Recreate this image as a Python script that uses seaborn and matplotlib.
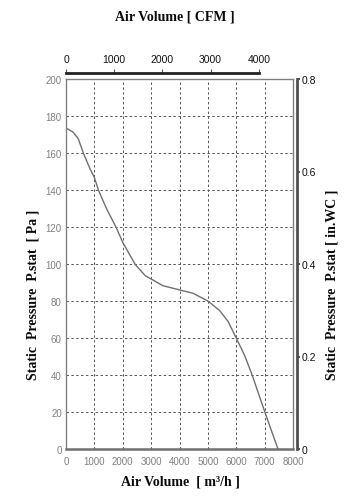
import numpy as np
import pandas as pd
import matplotlib
matplotlib.use("Agg")
import matplotlib.pyplot as plt
import seaborn as sns

# values
air_m3h = [0, 258, 435, 611, 848, 1000, 1141, 1435, 1767, 2000, 2438, 2792,
           3000, 3413, 4000, 4473, 5000, 5417, 5710, 6000, 6300, 6560, 7007, 7470]
pressure_pa = [173.5, 171.2, 167.6, 160.0, 151.4, 146.8, 140.0, 129.7, 119.8,
               111.7, 99.8, 93.7, 91.9, 88.3, 86.0, 84.2, 80.0, 74.8, 69.0,
               60.0, 50.4, 40.0, 20.0, 0.0]

x_ticks = [0, 1000, 2000, 3000, 4000, 5000, 6000, 7000, 8000]
y_ticks = [0, 20, 40, 60, 80, 100, 120, 140, 160, 180, 200]
wc_ticks = [0, 0.2, 0.4, 0.6, 0.8]
wc_labels = ["0", "0.2", "0.4", "0.6", "0.8"]
cfm_ticks = [0, 1000, 2000, 3000, 4000]
M3H_PER_CFM = 1.699

sns.set_style("white")
plt.rcParams["font.family"] = ["Liberation Sans Narrow", "Liberation Sans", "DejaVu Sans"]

df = pd.DataFrame({"q": air_m3h, "p": pressure_pa})

fig = plt.figure(figsize=(3.64, 5.02), dpi=100)
ax = fig.add_axes([66 / 364, 1 - 450 / 502, 227 / 364, 370 / 502])

sns.lineplot(data=df, x="q", y="p", ax=ax, color="#707070", linewidth=1.0)

ax.set_xlim(0, 8000)
ax.set_ylim(0, 200)
ax.set_xticks(x_ticks)
ax.set_yticks(y_ticks)
ax.set_xlabel("")
ax.set_ylabel("")
ax.grid(True, color="#555555", linestyle=(0, (2.5, 2.5)), linewidth=0.7)
ax.tick_params(axis="both", length=0, labelsize=7, labelcolor="#808080")
ax.tick_params(axis="x", pad=5)
ax.tick_params(axis="y", pad=3)
for side in ["left", "top", "right"]:
    ax.spines[side].set_color("#808080")
    ax.spines[side].set_linewidth(1.0)
ax.spines["bottom"].set_color("#707070")
ax.spines["bottom"].set_linewidth(1.8)

# right axis in inches of water column
ax2 = ax.twinx()
ax2.set_ylim(0, 0.8)
ax2.set_yticks(wc_ticks)
ax2.set_yticklabels(wc_labels)
for side in ["left", "top", "bottom"]:
    ax2.spines[side].set_visible(False)
ax2.spines["right"].set_position(("outward", 3))
ax2.spines["right"].set_color("#505050")
ax2.spines["right"].set_linewidth(2.0)
ax2.tick_params(axis="y", direction="out", length=2, width=1.2, color="#303030",
                labelsize=7.5, labelcolor="#111111", pad=1)
ax2.grid(False)

# top axis in CFM, line only up to 4000
ax3 = ax.twiny()
ax3.set_xlim(0, 8000 / M3H_PER_CFM)
ax3.set_xticks(cfm_ticks)
for side in ["left", "right", "bottom"]:
    ax3.spines[side].set_visible(False)
ax3.spines["top"].set_position(("outward", 4))
ax3.spines["top"].set_bounds(0, 4000)
ax3.spines["top"].set_color("#222222")
ax3.spines["top"].set_linewidth(2.0)
ax3.tick_params(axis="x", direction="out", length=3, width=0.8, color="#555555",
                labelsize=7.5, labelcolor="#111111", pad=4)
ax3.grid(False)

title_font = dict(family=["Liberation Serif", "DejaVu Serif"], fontweight="bold",
                  fontsize=10, color="#0a0a0a")
fig.text(175 / 364, 1 - 17 / 502, "Air Volume [ CFM ]", ha="center", va="center",
         **title_font)
fig.text(180 / 364, 1 - 482 / 502, "Air Volume  [ m³/h ]", ha="center", va="center",
         **title_font)
fig.text(33 / 364, 1 - 380 / 502, "Static  Pressure  P.stat  [ Pa ]", rotation=90,
         ha="center", va="bottom", **title_font)
fig.text(332 / 364, 1 - 380 / 502, "Static  Pressure  P.stat [ in.WC ]", rotation=90,
         ha="center", va="bottom", **title_font)

fig.savefig("out.png", dpi=100)
